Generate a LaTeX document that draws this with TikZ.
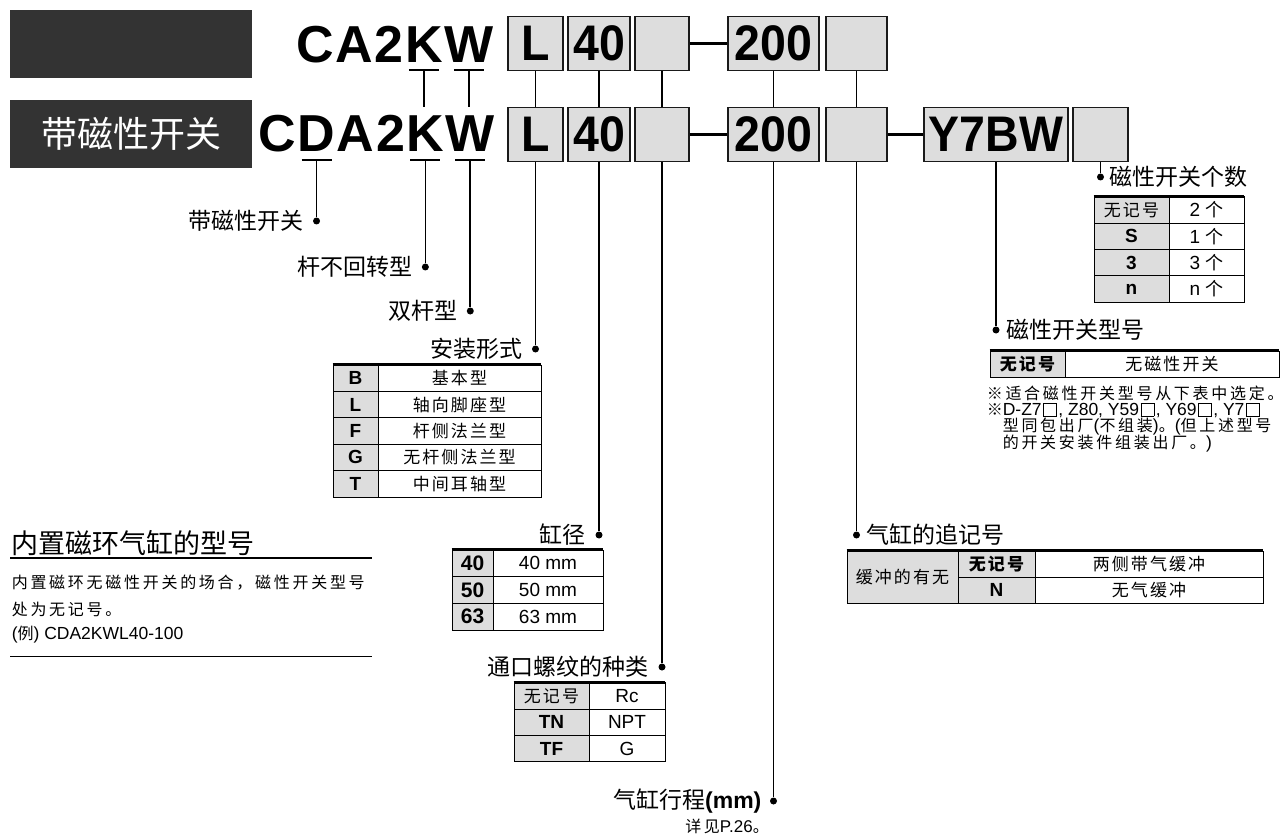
\documentclass[tikz,border=0pt]{standalone}
\usepackage{fontspec}
\usepackage{graphicx}
\usepackage{tikz}
\usetikzlibrary{positioning}
\newfontfamily\arl{Liberation Sans}
\newfontfamily\cjk{Noto Sans CJK SC}
\newfontfamily\cjksp[LetterSpace=12]{Noto Sans CJK SC}
\newfontfamily\cjknote[LetterSpace=17]{Noto Sans CJK SC}
\definecolor{hdrGray}{HTML}{333333}
\definecolor{boxGray}{HTML}{DDDDDD}
\definecolor{lineDark}{HTML}{1A1A1A}
\newcommand\cond[1]{\scalebox{0.93}[1]{#1}}
\newcommand\lat[1]{{\fontsize{17.5}{17}\selectfont\arl #1}}
\newcommand\opbox{\kern1.5pt\raisebox{-0.06em}{\fboxsep=0pt\fboxrule=0.6pt%
  \fbox{\rule{0pt}{0.8em}\rule{0.78em}{0pt}}}\kern1.5pt}

\begin{document}
\begin{tikzpicture}[x=1pt, y=-1pt, line width=1.6pt,
    hdr/.style={fill=hdrGray, minimum width=242pt, minimum height=68pt,
                inner sep=0pt, text=white, font=\fontsize{36}{40}\selectfont\cjk},
    ltr/.style={inner sep=0pt, anchor=base west,
                font=\fontsize{52}{60}\selectfont\arl\bfseries},
    pbox/.style={draw=lineDark, line width=1.8pt, fill=boxGray, minimum height=54pt,
                 inner sep=0pt, minimum width=#1,
                 font=\fontsize{50}{56}\selectfont\arl\bfseries},
    dot/.style={circle, fill, inner sep=0pt, minimum size=7pt},
    lbl/.style={inner sep=0pt, font=\fontsize{23}{26}\selectfont\cjk},
    cell/.style={draw, line width=0.8pt, inner sep=0pt,
                 font=\fontsize{17}{19}\selectfont\cjksp},
    latcell/.style={cell, font=\fontsize{19}{21}\selectfont\arl},
    key/.style={cell, fill=boxGray, font=\fontsize{19}{21}\selectfont\arl\bfseries},
    rule/.style={line width=2.4pt},
    uline/.style={line width=2.2pt},
    dashln/.style={line width=3.5pt},
    note/.style={inner sep=0pt, anchor=west, font=\fontsize{16}{17}\selectfont\cjknote}
  ]
  \useasboundingbox (0,0) rectangle (1282,834);

  % headers
  \node[hdr] (hdrTop) at (131,44) {};
  \node[hdr] (hdrMag) at (131,134) {带磁性开关};

  % model letters
  \node[ltr] (t1C) at (295.5,63) {C};
  \node[ltr] (t1A) at (t1C.base east) {A};
  \node[ltr] (t12) at (t1A.base east) {2};
  \node[ltr] (t1K) at (t12.base east) {K};
  \node[ltr] (t1W) at (t1K.base east) {W};
  \node[ltr] (t2C) at (257.8,152) {C};
  \node[ltr] (t2D) at (t2C.base east) {D};
  \node[ltr] (t2A) at (t2D.base east) {A};
  \node[ltr] (t22) at (t2A.base east) {2};
  \node[ltr] (t2K) at (t22.base east) {K};
  \node[ltr] (t2W) at (t2K.base east) {W};

  \coordinate (u1K) at ([yshift=-7pt]t1K.base);
  \coordinate (u1W) at ([yshift=-7pt]t1W.base);
  \coordinate (u2D) at ([yshift=-8pt]t2D.base);
  \coordinate (u2K) at ([yshift=-8pt]t2K.base);
  \coordinate (u2W) at ([yshift=-8pt]t2W.base);
  \foreach \u in {u1K,u1W,u2D,u2K,u2W}
    \draw[uline] ([xshift=-15pt]\u) -- ([xshift=15pt]\u);
  \draw (u1K) -- ([yshift=8pt]u1K |- t2K.north);
  \draw (u1W) -- ([yshift=8pt]u1W |- t2W.north);

  % option boxes
  \node[pbox=55pt] (mountA)  at (535.5,43.5) {\cond{L}};
  \node[pbox=62pt] (boreA)   at (599,43.5)   {\cond{40}};
  \node[pbox=54pt] (portA)   at (662,43.5)   {};
  \node[pbox=91pt] (strokeA) at (773.5,43.5) {\cond{200}};
  \node[pbox=61pt] (sufA)    at (856.5,43.5) {};
  \node[pbox=55pt] (mountB)  at (535.5,134.5) {\cond{L}};
  \node[pbox=62pt] (boreB)   at (599,134.5)   {\cond{40}};
  \node[pbox=54pt] (portB)   at (662,134.5)   {};
  \node[pbox=91pt] (strokeB) at (773.5,134.5) {\cond{200}};
  \node[pbox=61pt] (sufB)    at (856.5,134.5) {};
  \node[pbox=144pt] (swB)    at (996,134.5)   {\cond{Y7BW}};
  \node[pbox=55pt] (cntB)    at (1100.5,134.5) {};

  \draw[dashln] (portA) -- (strokeA);
  \draw[dashln] (portB) -- (strokeB);
  \draw[dashln] (sufB) -- (swB);
  \foreach \n in {mount,bore,port,stroke,suf}
    \draw (\n A) -- (\n B);

  % dots and labels
  \node[dot] (dMag)    at (u2D |- 0,221) {};
  \node[dot] (dNoRot)  at (u2K |- 0,267) {};
  \node[dot] (dDouble) at (u2W |- 0,311) {};
  \node[dot] (dMount)  at (mountB |- 0,349) {};
  \node[dot] (dBore)   at (boreB |- 0,535) {};
  \node[dot] (dPort)   at (portB |- 0,667) {};
  \node[dot] (dStroke) at (strokeB |- 0,801) {};
  \node[dot] (dSuf)    at (sufB |- 0,535) {};
  \node[dot] (dSw)     at (swB |- 0,330) {};
  \node[dot] (dCnt)    at (cntB |- 0,177) {};

  \draw (u2D) -- (dMag);
  \draw (u2K) -- (dNoRot);
  \draw (u2W) -- (dDouble);
  \foreach \n/\d in {mountB/dMount, boreB/dBore, portB/dPort, strokeB/dStroke,
                     sufB/dSuf, swB/dSw, cntB/dCnt}
    \draw (\n) -- (\d);

  \node[lbl, left=8pt of dMag]    (lMag)    {带磁性开关};
  \node[lbl, left=8pt of dNoRot]  (lNoRot)  {杆不回转型};
  \node[lbl, left=8pt of dDouble] (lDouble) {双杆型};
  \node[lbl, left=8pt of dMount]  (lMount)  {安装形式};
  \node[lbl, left=8pt of dBore]   (lBore)   {缸径};
  \node[lbl, left=8pt of dPort]   (lPort)   {通口螺纹的种类};
  \node[lbl, left=7pt of dStroke] (lStroke) {气缸行程{\arl\bfseries (mm)}};
  \node[lbl, right=5pt of dSuf]   (lSuf)    {气缸的追记号};
  \node[lbl, right=5pt of dSw]    (lSw)     {磁性开关型号};
  \node[lbl, right=4pt of dCnt]   (lCnt)    {磁性开关个数};
  \node[note, anchor=center] (lSee) at (727,826) {详见{\fontsize{17}{17}\selectfont\arl P.26}。};

  % mounting table
  \foreach \k/\v [count=\i] in {B/基本型, L/轴向脚座型, F/杆侧法兰型,
                                 G/无杆侧法兰型, T/中间耳轴型} {
    \node[key, minimum width=45pt, minimum height=26.4pt] (mk\i) at (355.5,351.8+26.4*\i) {\k};
    \node[cell, minimum width=163pt, minimum height=26.4pt] (mv\i) at (459.5,351.8+26.4*\i) {\v};
  }
  \draw[rule] (mk1.north west) -- (mv1.north east);

  % bore table
  \foreach \k [count=\i] in {40,50,63} {
    \node[key, minimum width=41pt, minimum height=26.7pt, font=\fontsize{21}{23}\selectfont\arl\bfseries]
      (bk\i) at (472.5,536.65+26.7*\i) {\k};
    \node[latcell, minimum width=110pt, minimum height=26.7pt] (bv\i) at (548,536.65+26.7*\i) {\k\ mm};
  }
  \draw[rule] (bk1.north west) -- (bv1.north east);

  % port table
  \foreach \k/\v [count=\i] in {{\fontsize{17}{19}\cjksp\mdseries 无记号}/Rc, TN/NPT, TF/G} {
    \node[key, minimum width=75pt, minimum height=26.3pt] (pk\i) at (551.5,669.7+26.3*\i) {\k};
    \node[latcell, minimum width=76pt, minimum height=26.3pt] (pv\i) at (627,669.7+26.3*\i) {\v};
  }
  \draw[rule] (pk1.north west) -- (pv1.north east);

  % switch count table
  \foreach \k/\v [count=\i] in {{\fontsize{17}{19}\cjksp\mdseries 无记号}/2, S/1, 3/3, n/n} {
    \node[key, minimum width=75pt, minimum height=26.3pt] (ck\i) at (1131.5,183.7+26.3*\i) {\k};
    \node[latcell, minimum width=75pt, minimum height=26.3pt] (cv\i) at (1206.5,183.7+26.3*\i)
      {\v\ {\fontsize{18}{19}\selectfont\cjk 个}};
  }
  \draw[rule] (ck1.north west) -- (cv1.north east);

  % switch type table
  \node[key, minimum width=75pt, minimum height=26pt] (sk1) at (1027.5,364)
    {\fontsize{17}{19}\selectfont\cjksp 无记号};
  \node[cell, minimum width=214pt, minimum height=26pt] (sv1) at (1172,364) {无磁性开关};
  \draw[rule] (sk1.north west) -- (sv1.north east);
  \node[note] (sn1) at (986,393) {※适合磁性开关型号从下表中选定。};
  \node[note] (sn2) at (986,410)
    {※\lat{D-Z7}\opbox\lat{, Z80, Y59}\opbox\lat{, Y69}\opbox\lat{, Y7}\opbox};
  \node[note] (sn3) at (1002,427) {型同包出厂\lat{(}不组装\lat{)}。\lat{(}但上述型号};
  \node[note] (sn4) at (1002,444) {的开关安装件组装出厂。\lat{)}};

  % suffix table
  \node[key, minimum width=111pt, minimum height=52pt, font=\fontsize{17}{19}\selectfont\cjksp]
    (xk0) at (902.5,577) {缓冲的有无};
  \node[key, minimum width=77pt, minimum height=26pt] (xk1) at (996.5,564)
    {\fontsize{17}{19}\selectfont\cjksp 无记号};
  \node[key, minimum width=77pt, minimum height=26pt] (xk2) at (996.5,590) {N};
  \node[cell, minimum width=228pt, minimum height=26pt] (xv1) at (1149,564) {两侧带气缓冲};
  \node[cell, minimum width=228pt, minimum height=26pt] (xv2) at (1149,590) {无气缓冲};
  \draw[rule] (xk0.north west) -- (xv1.north east);

  % built-in magnet note
  \node[inner sep=0pt, anchor=west, font=\fontsize{27}{30}\selectfont\cjk]
    (mTitle) at (11,543) {内置磁环气缸的型号};
  \draw[line width=2pt] (10,558) -- (372,558);
  \node[note] (mLine1) at (11,583) {内置磁环无磁性开关的场合，磁性开关型号};
  \node[note] (mLine2) at (11,609) {处为无记号。};
  \node[note] (mLine3) at (11,635) {\lat{(}例\lat{) CDA2KWL40-100}};
  \draw[line width=0.8pt] (10,656) -- (372,656);
\end{tikzpicture}
\end{document}
